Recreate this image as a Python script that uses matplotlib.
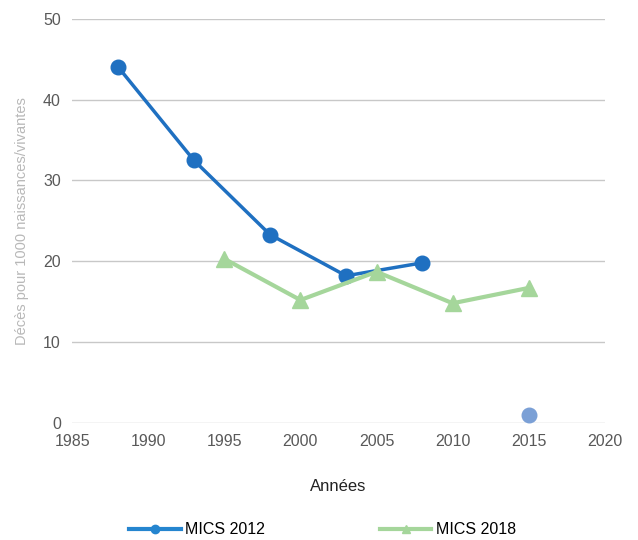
import matplotlib.pyplot as plt
from matplotlib.lines import Line2D

plt.rcParams['font.family'] = ['Liberation Sans', 'DejaVu Sans']

years_2012 = [1988, 1993, 1998, 2003, 2008]
values_2012 = [44.1, 32.5, 23.3, 18.2, 19.8]
years_2018 = [1995, 2000, 2005, 2010, 2015]
values_2018 = [20.3, 15.2, 18.7, 14.8, 16.7]
extra_year = [2015]
extra_value = [1.0]

blue = '#1f70c1'
green = '#a5d69b'

fig = plt.figure(figsize=(6.38, 5.40), dpi=100)
ax = fig.add_axes([0.113, 0.217, 0.835, 0.748])

# green series sits on top of the blue one in the original
ax.plot(years_2012, values_2012, color=blue, linewidth=2.5, marker='o', markersize=10.5, zorder=2)
ax.plot(years_2018, values_2018, color=green, linewidth=3, marker='^', markersize=11.5, zorder=3)
ax.scatter(extra_year, extra_value, color='#7ba0d6', s=110, zorder=3)

ax.set_xlim(1985, 2020)
ax.set_ylim(0, 50)
ax.set_xticks(range(1985, 2021, 5))
ax.set_yticks(range(0, 51, 10))
ax.grid(axis='y', color='#c8c8c8', linewidth=1)
ax.set_axisbelow(True)
for s in ax.spines.values():
    s.set_visible(False)
ax.tick_params(length=0, labelsize=11.5, labelcolor='#595959', pad=8)
ax.set_xlabel('Années', fontsize=12, color='#222222', labelpad=22)
ax.set_ylabel('Décès pour 1000 naissances/vivantes', fontsize=10.5, color='#b8b8b8', labelpad=10)

handles = [
    Line2D([], [], color='#2585cf', linewidth=3, marker='o', markersize=6),
    Line2D([], [], color=green, linewidth=3, marker='^', markersize=6),
]
fig.legend(handles, ['MICS 2012', 'MICS 2018'], loc='center', bbox_to_anchor=(0.506, 0.019),
           ncol=2, frameon=False, fontsize=11.5, handlelength=3.2, handletextpad=0.3,
           columnspacing=7.2)

fig.savefig('out.png', dpi=100)
